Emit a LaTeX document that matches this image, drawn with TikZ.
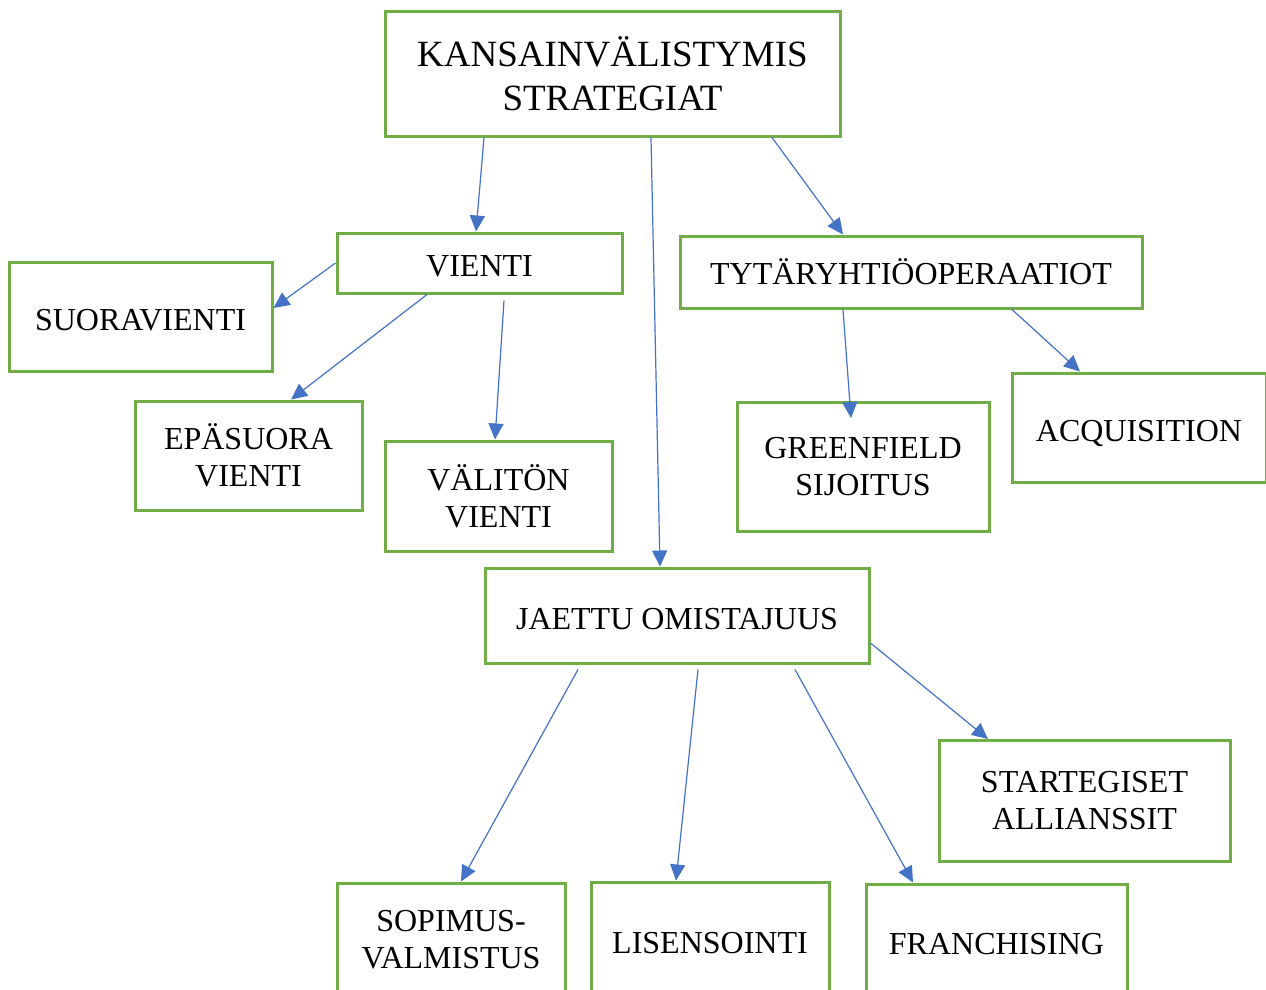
\documentclass[tikz,border=0pt]{standalone}
\usepackage{fontspec}
\setmainfont{Liberation Serif}
\usetikzlibrary{arrows.meta}

\definecolor{boxgreen}{RGB}{112,173,71}
\definecolor{lineblue}{RGB}{68,114,196}

\begin{document}
\begin{tikzpicture}[x=1pt, y=-1pt,
    box/.style={draw=boxgreen, line width=3pt, fill=white, inner sep=0pt,
        align=center, font=\fontsize{32}{37}\selectfont},
    oneline/.style={box, text height=27pt, text depth=0pt},
    link/.style={draw=lineblue, line width=1.2pt, -{Triangle[length=16pt,width=15pt]}}]
    % Frame
    \useasboundingbox (0,0) rectangle (1266,989);
    \clip (0,0) rectangle (1266,989);
    \fill[white] (0,0) rectangle (1266,989);

    % Top
    \node[box, minimum width=455pt, minimum height=125pt,
        font=\fontsize{37}{44}\selectfont] (top) at (612.5,73.5)
        {KANSAINVÄLISTYMIS\\STRATEGIAT};

    % Second level
    \node[oneline, minimum width=285pt, minimum height=60pt] (vienti) at (479.5,263) {VIENTI};
    \node[box, minimum width=462pt, minimum height=72pt] (tytar) at (911,272) {TYTÄRYHTIÖOPERAATIOT};
    \node[oneline, minimum width=384pt, minimum height=95pt] (jaettu) at (677,615.5) {JAETTU OMISTAJUUS};

    % Under VIENTI
    \node[oneline, minimum width=263pt, minimum height=109pt] (suora) at (140.5,316.5) {SUORAVIENTI};
    \node[box, minimum width=227pt, minimum height=109pt] (epasuora) at (248.5,455.5) {EPÄSUORA\\VIENTI};
    \node[box, minimum width=227pt, minimum height=110pt] (valiton) at (498.5,496) {VÄLITÖN\\VIENTI};

    % Under TYTÄRYHTIÖOPERAATIOT
    \node[box, minimum width=252pt, minimum height=129pt] (green) at (863,467) {GREENFIELD\\SIJOITUS};
    \node[oneline, minimum width=254pt, minimum height=109pt] (acq) at (1139,427.5) {ACQUISITION};

    % Under JAETTU OMISTAJUUS
    \node[box, minimum width=291pt, minimum height=121pt] (allianssit) at (1084.5,801) {STARTEGISET\\ALLIANSSIT};
    \node[box, minimum width=228pt, minimum height=114pt] (sopimus) at (451,940) {SOPIMUS-\\VALMISTUS};
    \node[oneline, minimum width=238pt, minimum height=116pt] (lisens) at (710,940) {LISENSOINTI};
    \node[oneline, minimum width=261pt, minimum height=114pt] (franch) at (996.5,941) {FRANCHISING};

    % Arrows
    \draw[link] ([xshift=-128.5pt]top.south) -- ([xshift=-3.5pt]vienti.north);
    \draw[link] ([xshift=38.5pt]top.south) -- ([xshift=-17pt]jaettu.north);
    \draw[link] ([xshift=159.5pt]top.south) -- ([xshift=-68pt]tytar.north);

    \draw[link] (vienti.west) -- ([yshift=8.5pt]suora.east);
    \draw[link] ([xshift=-52.5pt]vienti.south) -- ([xshift=42.5pt]epasuora.north);
    \draw[link] ([xshift=24.5pt,yshift=-6pt]vienti.south) -- ([xshift=-3.5pt]valiton.north);

    \draw[link] ([xshift=-68pt]tytar.south) -- ([xshift=-12pt,yshift=-17pt]green.north);
    \draw[link] ([xshift=101pt]tytar.south) -- ([xshift=-59pt]acq.north);

    \draw[link] ([yshift=-27.5pt]jaettu.east) -- ([xshift=-96.5pt]allianssit.north);
    \foreach \from/\to/\dx in {-99/sopimus/10, 21/lisens/-34, 118/franch/-83.5}
        \draw[link] ([xshift=\from pt,yshift=-5pt]jaettu.south) -- ([xshift=\dx pt]\to.north);
\end{tikzpicture}
\end{document}
